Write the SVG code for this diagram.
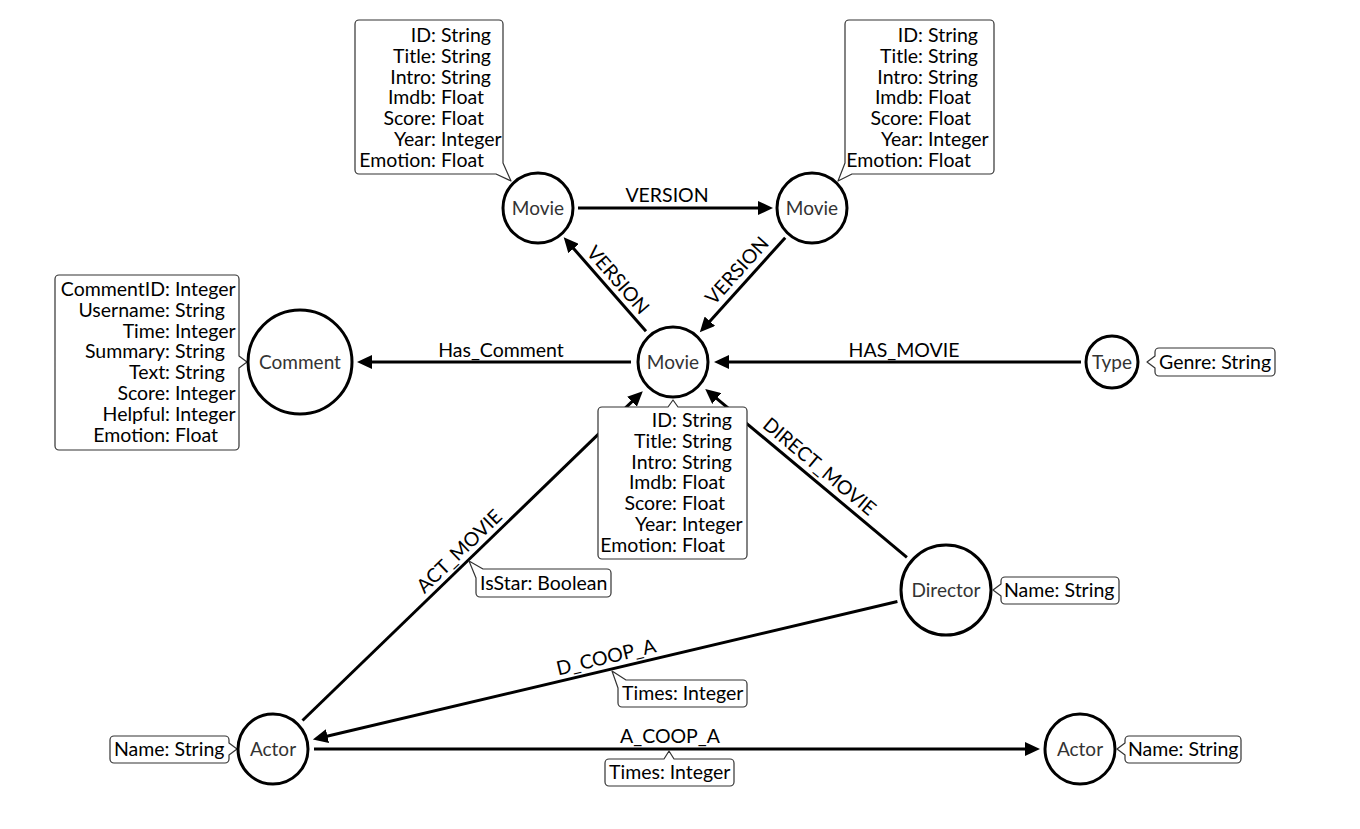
<svg xmlns="http://www.w3.org/2000/svg" width="1360" height="829" viewBox="0 0 1360 829">
  <style>
    .node circle { fill: #fff; stroke: #000; stroke-width: 3; }
    .node-label { font-family: Lato, "Open Sans", sans-serif; font-size: 19px; fill: #333; text-anchor: middle; }
    .box { fill: #fff; stroke: #333; stroke-width: 1.2; stroke-linejoin: round; }
    .prop { font-family: Lato, "Open Sans", sans-serif; font-size: 19.5px; fill: #000; }
    .key { text-anchor: end; }
    .edge { stroke: #000; stroke-width: 3; fill: none; marker-end: url(#arrow); }
    .edge-label { font-family: Lato, "Open Sans", sans-serif; font-size: 19.5px; fill: #000; text-anchor: middle; }
  </style>
  <defs>
    <marker id="arrow" markerUnits="userSpaceOnUse" markerWidth="16" markerHeight="14" refX="5" refY="7" orient="auto">
      <path d="M0,0 L15,7 L0,14 Z" fill="#000"/>
    </marker>
  </defs>
  <rect width="1360" height="829" fill="#fff"/>

  <!-- connectors -->
  <g id="edges">
    <line class="edge" x1="578" y1="208" x2="763" y2="208"/>
    <text class="edge-label" x="667" y="201.5">VERSION</text>

    <line class="edge" x1="646" y1="331.2" x2="570.3" y2="244.8"/>
    <text class="edge-label" transform="translate(608.5,288.4) rotate(48.8)" y="-6">VERSION</text>

    <line class="edge" x1="785.2" y1="237.7" x2="706.5" y2="324.9"/>
    <text class="edge-label" transform="translate(747.2,279.8) rotate(-47.9)" y="-7">VERSION</text>

    <line class="edge" x1="631" y1="362" x2="367" y2="362"/>
    <text class="edge-label" x="501" y="356.5">Has_Comment</text>

    <line class="edge" x1="1081" y1="362" x2="724" y2="362"/>
    <text class="edge-label" x="904" y="356.5">HAS_MOVIE</text>

    <line class="edge" x1="302.5" y1="720.5" x2="635.6" y2="398.2"/>
    <text class="edge-label" transform="translate(468.1,560.4) rotate(-44.05)" y="-6">ACT_MOVIE</text>

    <line class="edge" x1="906.9" y1="557.3" x2="712.9" y2="395.3"/>
    <text class="edge-label" transform="translate(810.7,477) rotate(39.9)" y="-7">DIRECT_MOVIE</text>

    <line class="edge" x1="897.4" y1="601.5" x2="322.6" y2="737.3"/>
    <text class="edge-label" transform="translate(609.1,669.6) rotate(-13.3)" y="-6">D_COOP_A</text>

    <line class="edge" x1="314" y1="749" x2="1030" y2="749"/>
    <text class="edge-label" x="670" y="743">A_COOP_A</text>

    <!-- relationship properties -->
    <g id="act-movie-props">
      <path class="box" d="M483 569 H607 A4 4 0 0 1 611 573 V593 A4 4 0 0 1 607 597 H480 A4 4 0 0 1 476 593 V578 L469 561 Z"/>
      <text class="prop" x="480" y="590">IsStar: Boolean</text>
    </g>
    <g id="d-coop-a-props">
      <path class="box" d="M626 680 H743 A4 4 0 0 1 747 684 V703 A4 4 0 0 1 743 707 H622 A4 4 0 0 1 618 703 V688 L612 671 Z"/>
      <text class="prop" x="622" y="700">Times: Integer</text>
    </g>
    <g id="a-coop-a-props">
      <path class="box" d="M609 759 H664 L669 751 L674 759 H730 A4 4 0 0 1 734 763 V782 A4 4 0 0 1 730 786 H609 A4 4 0 0 1 605 782 V763 A4 4 0 0 1 609 759 Z"/>
      <text class="prop" x="609" y="779">Times: Integer</text>
    </g>
  </g>

  <!-- Movie (top left) -->
  <g id="movie-tl" class="node">
    <path class="box" d="M359 20 H499 A4 4 0 0 1 503 24 V163 L511 181 L496 174 H359 A4 4 0 0 1 355 170 V24 A4 4 0 0 1 359 20 Z"/>
    <g class="prop">
      <text class="key" x="436" y="42">ID:</text><text x="441" y="42">String</text>
      <text class="key" x="436" y="62.8">Title:</text><text x="441" y="62.8">String</text>
      <text class="key" x="436" y="83.6">Intro:</text><text x="441" y="83.6">String</text>
      <text class="key" x="436" y="104.4">Imdb:</text><text x="441" y="104.4">Float</text>
      <text class="key" x="436" y="125.2">Score:</text><text x="441" y="125.2">Float</text>
      <text class="key" x="436" y="146">Year:</text><text x="441" y="146">Integer</text>
      <text class="key" x="436" y="166.8">Emotion:</text><text x="441" y="166.8">Float</text>
    </g>
    <circle cx="538" cy="208" r="35"/>
    <text class="node-label" x="538" y="214.5">Movie</text>
  </g>

  <!-- Movie (top right) -->
  <g id="movie-tr" class="node">
    <path class="box" d="M849 20 H990 A4 4 0 0 1 994 24 V170 A4 4 0 0 1 990 174 H852 L838 181 L845 163 V24 A4 4 0 0 1 849 20 Z"/>
    <g class="prop">
      <text class="key" x="923" y="42">ID:</text><text x="928" y="42">String</text>
      <text class="key" x="923" y="62.8">Title:</text><text x="928" y="62.8">String</text>
      <text class="key" x="923" y="83.6">Intro:</text><text x="928" y="83.6">String</text>
      <text class="key" x="923" y="104.4">Imdb:</text><text x="928" y="104.4">Float</text>
      <text class="key" x="923" y="125.2">Score:</text><text x="928" y="125.2">Float</text>
      <text class="key" x="923" y="146">Year:</text><text x="928" y="146">Integer</text>
      <text class="key" x="923" y="166.8">Emotion:</text><text x="928" y="166.8">Float</text>
    </g>
    <circle cx="812" cy="208" r="35"/>
    <text class="node-label" x="812" y="214.5">Movie</text>
  </g>

  <!-- Movie (centre) -->
  <g id="movie-center" class="node">
    <circle cx="673" cy="362" r="35"/>
    <text class="node-label" x="673" y="368.5">Movie</text>
    <path class="box" d="M602 407 H668 L673 400 L678 407 H743 A4 4 0 0 1 747 411 V555 A4 4 0 0 1 743 559 H602 A4 4 0 0 1 598 555 V411 A4 4 0 0 1 602 407 Z"/>
    <g class="prop">
      <text class="key" x="677" y="427">ID:</text><text x="682" y="427">String</text>
      <text class="key" x="677" y="447.8">Title:</text><text x="682" y="447.8">String</text>
      <text class="key" x="677" y="468.6">Intro:</text><text x="682" y="468.6">String</text>
      <text class="key" x="677" y="489.4">Imdb:</text><text x="682" y="489.4">Float</text>
      <text class="key" x="677" y="510.2">Score:</text><text x="682" y="510.2">Float</text>
      <text class="key" x="677" y="531">Year:</text><text x="682" y="531">Integer</text>
      <text class="key" x="677" y="551.8">Emotion:</text><text x="682" y="551.8">Float</text>
    </g>
  </g>

  <!-- Comment -->
  <g id="comment" class="node">
    <path class="box" d="M59 275 H235 A4 4 0 0 1 239 279 V356 L247 362 L239 368 V446 A4 4 0 0 1 235 450 H59 A4 4 0 0 1 55 446 V279 A4 4 0 0 1 59 275 Z"/>
    <g class="prop">
      <text class="key" x="170" y="296">CommentID:</text><text x="175" y="296">Integer</text>
      <text class="key" x="170" y="316.8">Username:</text><text x="175" y="316.8">String</text>
      <text class="key" x="170" y="337.6">Time:</text><text x="175" y="337.6">Integer</text>
      <text class="key" x="170" y="358.4">Summary:</text><text x="175" y="358.4">String</text>
      <text class="key" x="170" y="379.2">Text:</text><text x="175" y="379.2">String</text>
      <text class="key" x="170" y="400">Score:</text><text x="175" y="400">Integer</text>
      <text class="key" x="170" y="420.8">Helpful:</text><text x="175" y="420.8">Integer</text>
      <text class="key" x="170" y="441.6">Emotion:</text><text x="175" y="441.6">Float</text>
    </g>
    <circle cx="300" cy="362" r="52"/>
    <text class="node-label" x="300" y="368.5">Comment</text>
  </g>

  <!-- Type -->
  <g id="type" class="node">
    <circle cx="1112" cy="362" r="26"/>
    <text class="node-label" x="1112" y="368.5">Type</text>
    <path class="box" d="M1159 348 H1271 A4 4 0 0 1 1275 352 V372 A4 4 0 0 1 1271 376 H1159 A4 4 0 0 1 1155 372 V368 L1147 362 L1155 356 V352 A4 4 0 0 1 1159 348 Z"/>
    <text class="prop" x="1159" y="369">Genre: String</text>
  </g>

  <!-- Director -->
  <g id="director" class="node">
    <circle cx="946" cy="590" r="45"/>
    <text class="node-label" x="946" y="596.5">Director</text>
    <path class="box" d="M1005 577 H1115 A4 4 0 0 1 1119 581 V600 A4 4 0 0 1 1115 604 H1005 A4 4 0 0 1 1001 600 V596 L993 590 L1001 584 V581 A4 4 0 0 1 1005 577 Z"/>
    <text class="prop" x="1004" y="597">Name: String</text>
  </g>

  <!-- Actor (left) -->
  <g id="actor-left" class="node">
    <path class="box" d="M114 736 H225 A4 4 0 0 1 229 740 V743 L237 749 L229 755 V759 A4 4 0 0 1 225 763 H114 A4 4 0 0 1 110 759 V740 A4 4 0 0 1 114 736 Z"/>
    <text class="prop" x="114" y="756">Name: String</text>
    <circle cx="273" cy="749" r="35"/>
    <text class="node-label" x="273" y="755.5">Actor</text>
  </g>

  <!-- Actor (right) -->
  <g id="actor-right" class="node">
    <circle cx="1080" cy="749" r="35"/>
    <text class="node-label" x="1080" y="755.5">Actor</text>
    <path class="box" d="M1129 736 H1237 A4 4 0 0 1 1241 740 V759 A4 4 0 0 1 1237 763 H1129 A4 4 0 0 1 1125 759 V755 L1117 749 L1125 743 V740 A4 4 0 0 1 1129 736 Z"/>
    <text class="prop" x="1128" y="756">Name: String</text>
  </g>
</svg>
